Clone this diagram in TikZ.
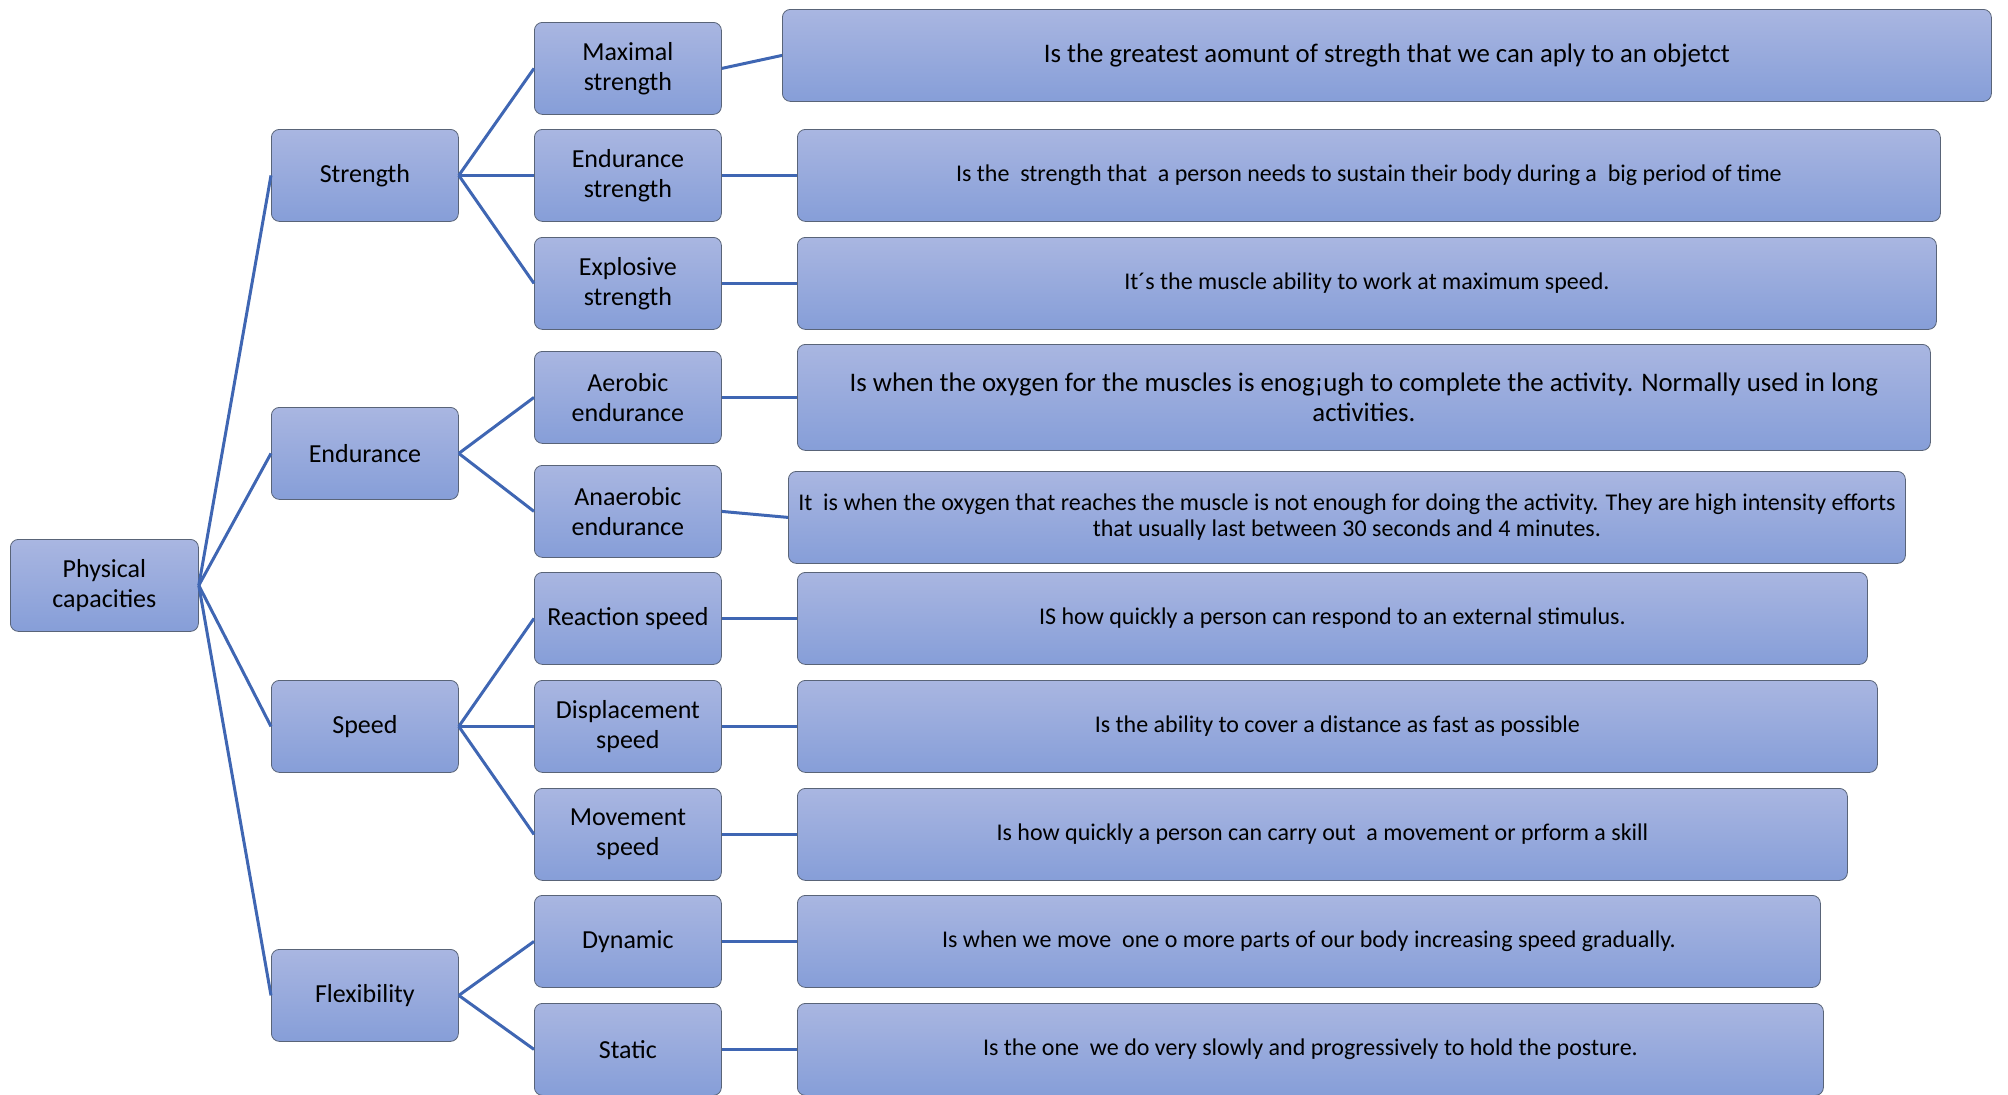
\documentclass[tikz,border=0pt]{standalone}
\usepackage{fontspec}
\setmainfont{Carlito}
\definecolor{boxtop}{HTML}{A9B6E1}
\definecolor{boxbot}{HTML}{869ED8}
\definecolor{boxline}{HTML}{596478}
\definecolor{linkblue}{HTML}{3F66B3}

\begin{document}
\begin{tikzpicture}[
    x=0.5pt, y=-0.5pt,
    every node/.style={text=black},
    box/.style={draw=boxline, rounded corners=4pt, top color=boxtop, bottom color=boxbot,
        minimum width=93.5pt, minimum height=46pt, align=center, anchor=north west,
        inner sep=2pt, font=\fontsize{13}{15}\selectfont},
    desc/.style={box, minimum width=#1, font=\fontsize{12}{14}\selectfont},
    link/.style={draw=linkblue, line width=1.5pt}
]
    \useasboundingbox (0,0) rectangle (2008,1094);
    \clip (0,0) rectangle (2008,1094);

    % --- Root ---
    \node[box, minimum width=94pt] (P) at (10,539) {Physical\\capacities};

    % --- Capacities ---
    \node[box] (S)  at (271,129) {Strength};
    \node[box] (E)  at (271,407) {Endurance};
    \node[box] (Sp) at (271,680) {Speed};
    \node[box] (F)  at (271,949) {Flexibility};

    % --- Types ---
    \node[box] (S1)  at (534,22)   {Maximal\\strength};
    \node[box] (S2)  at (534,129)  {Endurance\\strength};
    \node[box] (S3)  at (534,237)  {Explosive\\strength};
    \node[box] (E1)  at (534,351)  {Aerobic\\endurance};
    \node[box] (E2)  at (534,465)  {Anaerobic\\endurance};
    \node[box] (Sp1) at (534,572)  {Reaction speed};
    \node[box] (Sp2) at (534,680)  {Displacement\\speed};
    \node[box] (Sp3) at (534,788)  {Movement\\speed};
    \node[box] (F1)  at (534,895)  {Dynamic};
    \node[box] (F2)  at (534,1003) {Static};

    % --- Definitions ---
    \node[desc=604.5pt, font=\fontsize{13.4}{15}\selectfont] (D1) at (782,9)
        {Is the greatest aomunt of stregth that we can aply to an objetct};
    \node[desc=571.5pt] (D2) at (797,129)
        {Is the\ \ strength that\ \ a person needs to sustain their body during a\ \ big period of time};
    \node[desc=569.5pt] (D3) at (797,237)
        {It´s the muscle ability to work at maximum speed.};
    \node[desc=566.5pt, minimum height=53pt, font=\fontsize{13.4}{15}\selectfont] (D4) at (797,344)
        {Is when the oxygen for the muscles is enog¡ugh to complete the activity. Normally used in long\\activities.};
    \node[desc=558.5pt, font=\fontsize{12}{13}\selectfont] (D5) at (788,471)
        {It\ \ is when the oxygen that reaches the muscle is not enough for doing the activity. They are high intensity efforts\\that usually last between 30 seconds and 4 minutes.};
    \node[desc=535pt] (D6) at (797,572)
        {IS how quickly a person can respond to an external stimulus.};
    \node[desc=540pt] (D7) at (797,680)
        {Is the ability to cover a distance as fast as possible};
    \node[desc=525pt] (D8) at (797,788)
        {Is how quickly a person can carry out\ \ a movement or prform a skill};
    \node[desc=511.5pt] (D9) at (797,895)
        {Is when we move\ \ one o more parts of our body increasing speed gradually.};
    \node[desc=513pt] (D10) at (797,1003)
        {Is the one\ \ we do very slowly and progressively to hold the posture.};

    % --- Links ---
    \foreach \c in {S,E,Sp,F}
        \draw[link] (P.east) -- (\c.west);
    \foreach \c in {S1,S2,S3}
        \draw[link] (S.east) -- (\c.west);
    \foreach \c in {E1,E2}
        \draw[link] (E.east) -- (\c.west);
    \foreach \c in {Sp1,Sp2,Sp3}
        \draw[link] (Sp.east) -- (\c.west);
    \foreach \c in {F1,F2}
        \draw[link] (F.east) -- (\c.west);

    \draw[link] (S1.east) -- (D1.west);
    \draw[link] (S2.east) -- (D2.west);
    \draw[link] (S3.east) -- (D3.west);
    \draw[link] (E1.east) -- (D4.west);
    \draw[link] (E2.east) -- (D5.west);
    \draw[link] (Sp1.east) -- (D6.west);
    \draw[link] (Sp2.east) -- (D7.west);
    \draw[link] (Sp3.east) -- (D8.west);
    \draw[link] (F1.east) -- (D9.west);
    \draw[link] (F2.east) -- (D10.west);

\end{tikzpicture}
\end{document}
